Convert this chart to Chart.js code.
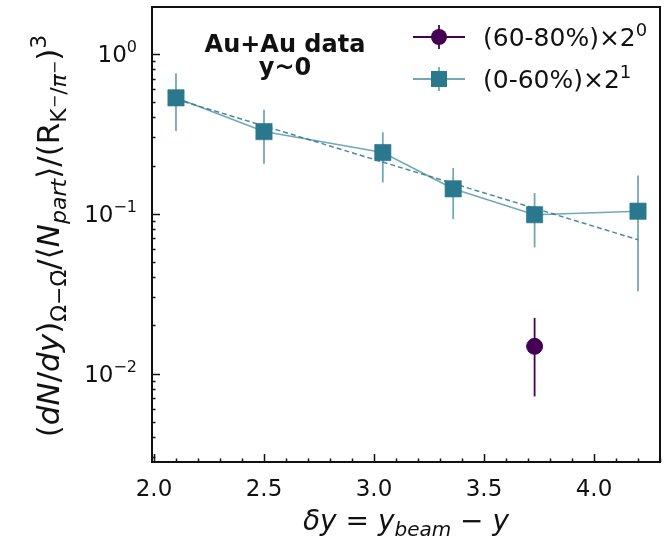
<!DOCTYPE html>
<html>
<head>
<meta charset="utf-8">
<script src="https://cdn.jsdelivr.net/npm/chart.js@4"></script>
<style>
  html, body { margin: 0; padding: 0; background: #fff; }
  #wrap { width: 664px; height: 542px; }
</style>
</head>
<body>
<div id="wrap"><canvas id="chart" width="664" height="542"></canvas></div>
<script>
// values
const deltaY = [2.1, 2.5, 3.04, 3.36, 3.73, 4.2];
const centralVals = [0.53, 0.326, 0.241, 0.143, 0.0985, 0.1036];
const centralHigh = [0.755, 0.446, 0.323, 0.193, 0.1345, 0.173];
const centralLow = [0.329, 0.205, 0.157, 0.0925, 0.0615, 0.0327];
const periphX = [3.73];
const periphVals = [0.0148];
const periphHigh = [0.0223];
const periphLow = [0.0072];
const fitX = [2.1, 4.2];
const fitVals = [0.52, 0.0687];
const xTicks = [2.0, 2.5, 3.0, 3.5, 4.0];
const yTicks = [0.01, 0.1, 1];

const TEAL = '#2a788e';
const TEAL_LIGHT = 'rgba(42,120,142,0.65)';
const PURPLE = '#440154';
const FONT = '"DejaVu Sans"';

function fontOf(r, base) {
    return (r.i ? 'italic ' : '') + (r.b ? 'bold ' : '') + Math.round(base * (r.s || 1)) + 'px ' + FONT;
}

// draw a row of text runs (for math-like labels)
function drawRuns(ctx, runs, x, y, base, align) {
    let total = 0;
    runs.forEach(r => { ctx.font = fontOf(r, base); r.w = ctx.measureText(r.t).width + (r.gap || 0) * base; total += r.w; });
    let cx = x;
    if (align === 'center') cx = x - total / 2;
    if (align === 'right') cx = x - total;
    runs.forEach(r => {
        ctx.font = fontOf(r, base);
        ctx.fillText(r.t, cx, y + (r.dy || 0) * base);
        cx += r.w;
    });
}

const sub = (t, i) => ({ t, i, s: 0.7, dy: 0.22 });
const sup = (t, i) => ({ t, i, s: 0.7, dy: -0.42 });

const yLabelRuns = [
    { t: '(' }, { t: 'dN', i: true }, { t: '/' }, { t: 'dy', i: true }, { t: ')' },
    sub('\u03a9\u2212\u03a9\u0304'),
    { t: '/\u27e8' }, { t: 'N', i: true }, sub('part', true), { t: '\u27e9/(' },
    { t: 'R' }, sub('K'), { t: '\u2212', s: 0.5, dy: 0.02 }, sub('/'), sub('\u03c0', true), { t: '\u2212', s: 0.5, dy: 0.02 },
    { t: ')' }, sup('3')
];

const xLabelRuns = [
    { t: '\u03b4y', i: true }, { t: ' = ' }, { t: 'y', i: true }, sub('beam', true),
    { t: ' \u2212 ' }, { t: 'y', i: true }
];

const errorBars = [
    { x: deltaY, hi: centralHigh, lo: centralLow, color: TEAL_LIGHT },
    { x: periphX, hi: periphHigh, lo: periphLow, color: PURPLE }
];

const decorPlugin = {
    id: 'decor',
    beforeDatasetsDraw(chart) {
        const { ctx, scales: { x, y } } = chart;
        ctx.save();
        ctx.lineWidth = 1.8;
        errorBars.forEach(e => {
            ctx.strokeStyle = e.color;
            e.x.forEach((xv, i) => {
                const px = x.getPixelForValue(xv);
                ctx.beginPath();
                ctx.moveTo(px, y.getPixelForValue(e.hi[i]));
                ctx.lineTo(px, y.getPixelForValue(e.lo[i]));
                ctx.stroke();
            });
        });
        ctx.restore();
    },
    afterDraw(chart) {
        const { ctx, chartArea: a, scales: { x, y } } = chart;
        ctx.save();
        // frame
        ctx.strokeStyle = '#111';
        ctx.lineWidth = 2;
        ctx.strokeRect(a.left, a.top, a.right - a.left, a.bottom - a.top);

        // inward ticks
        ctx.lineWidth = 1.5;
        ctx.beginPath();
        for (let d = -3; d <= 0; d++) {
            for (let m = 1; m <= 9; m++) {
                const v = m * Math.pow(10, d);
                if (v < y.min || v > y.max) continue;
                const py = Math.round(y.getPixelForValue(v)) + 0.5;
                const len = m === 1 ? 8 : 3.5;
                ctx.moveTo(a.left, py);
                ctx.lineTo(a.left + len, py);
            }
        }
        for (let k = 20; k <= 43; k++) {
            const v = k / 10;
            if (v < x.min || v > x.max) continue;
            const px = Math.round(x.getPixelForValue(v)) + 0.5;
            const len = k % 5 === 0 ? 8 : 3.5;
            ctx.moveTo(px, a.bottom);
            ctx.lineTo(px, a.bottom - len);
        }
        ctx.stroke();

        ctx.fillStyle = '#111';
        ctx.textBaseline = 'alphabetic';

        // tick labels
        xTicks.forEach(v => {
            drawRuns(ctx, [{ t: v.toFixed(1) }], x.getPixelForValue(v), 496, 23, 'center');
        });
        yTicks.forEach(v => {
            const e = Math.round(Math.log10(v));
            const expo = e < 0 ? '\u2212' + (-e) : String(e);
            drawRuns(ctx, [{ t: '10' }, { t: expo, s: 0.7, dy: -0.45 }], 137, y.getPixelForValue(v) + 8.5, 23, 'right');
        });

        // axis titles
        drawRuns(ctx, xLabelRuns, (a.left + a.right) / 2, 530, 28, 'center');
        ctx.save();
        ctx.translate(59, 236);
        ctx.rotate(-Math.PI / 2);
        drawRuns(ctx, yLabelRuns, 0, 0, 31, 'center');
        ctx.restore();

        // annotation
        ctx.textAlign = 'center';
        ctx.font = 'bold 24px ' + FONT;
        ctx.fillText('Au+Au data', 285, 52);
        ctx.fillText('y~0', 285, 75);
        ctx.textAlign = 'left';

        // legend
        const rows = [
            { y: 37, color: PURPLE, line: PURPLE, style: 'circle', label: '(60-80%)\u00d72', exp: '0' },
            { y: 79, color: TEAL, line: TEAL_LIGHT, style: 'square', label: '(0-60%)\u00d72', exp: '1' }
        ];
        rows.forEach(r => {
            ctx.strokeStyle = r.line;
            ctx.lineWidth = 1.8;
            ctx.beginPath();
            ctx.moveTo(413, r.y); ctx.lineTo(465, r.y);
            ctx.moveTo(439, r.y - 12); ctx.lineTo(439, r.y + 12);
            ctx.stroke();
            ctx.fillStyle = r.color;
            if (r.style === 'circle') {
                ctx.beginPath();
                ctx.arc(439, r.y, 8, 0, Math.PI * 2);
                ctx.fill();
            } else {
                ctx.fillRect(431, r.y - 8, 16, 16);
            }
            ctx.fillStyle = '#111';
            drawRuns(ctx, [{ t: r.label }, sup(r.exp)], 483, r.y + 9, 25, 'left');
        });
        ctx.restore();
    }
};

new Chart(document.getElementById('chart'), {
    type: 'scatter',
    data: {
        datasets: [
            {
                label: '(0-60%)',
                data: deltaY.map((v, i) => ({ x: v, y: centralVals[i] })),
                showLine: true,
                borderColor: TEAL_LIGHT,
                borderWidth: 1.6,
                backgroundColor: TEAL,
                pointStyle: 'rect',
                pointRadius: 11.5,
                pointBorderColor: TEAL_LIGHT,
                pointBorderWidth: 1,
                order: 1
            },
            {
                label: 'fit',
                data: fitX.map((v, i) => ({ x: v, y: fitVals[i] })),
                showLine: true,
                borderColor: 'rgba(42,120,142,0.85)',
                borderWidth: 1.5,
                borderDash: [5, 3],
                pointRadius: 0,
                order: 2
            },
            {
                label: '(60-80%)',
                data: periphX.map((v, i) => ({ x: v, y: periphVals[i] })),
                backgroundColor: PURPLE,
                borderColor: PURPLE,
                pointStyle: 'circle',
                pointRadius: 8,
                order: 0
            }
        ]
    },
    options: {
        responsive: false,
        animation: false,
        layout: { autoPadding: false, padding: { top: 7, right: 4, left: 0, bottom: 0 } },
        plugins: { legend: { display: false }, tooltip: { enabled: false } },
        scales: {
            x: {
                type: 'linear',
                min: 1.991,
                max: 4.30,
                grid: { display: false, drawTicks: false },
                border: { display: false },
                afterBuildTicks: s => { s.ticks = xTicks.map(v => ({ value: v })); },
                afterFit: s => { s.height = 80; },
                ticks: { display: false }
            },
            y: {
                type: 'logarithmic',
                min: 0.0028,
                max: 1.96,
                grid: { display: false, drawTicks: false },
                border: { display: false },
                afterBuildTicks: s => { s.ticks = yTicks.map(v => ({ value: v })); },
                afterFit: s => { s.width = 152; },
                ticks: { display: false }
            }
        }
    },
    plugins: [decorPlugin]
});
</script>
</body>
</html>
